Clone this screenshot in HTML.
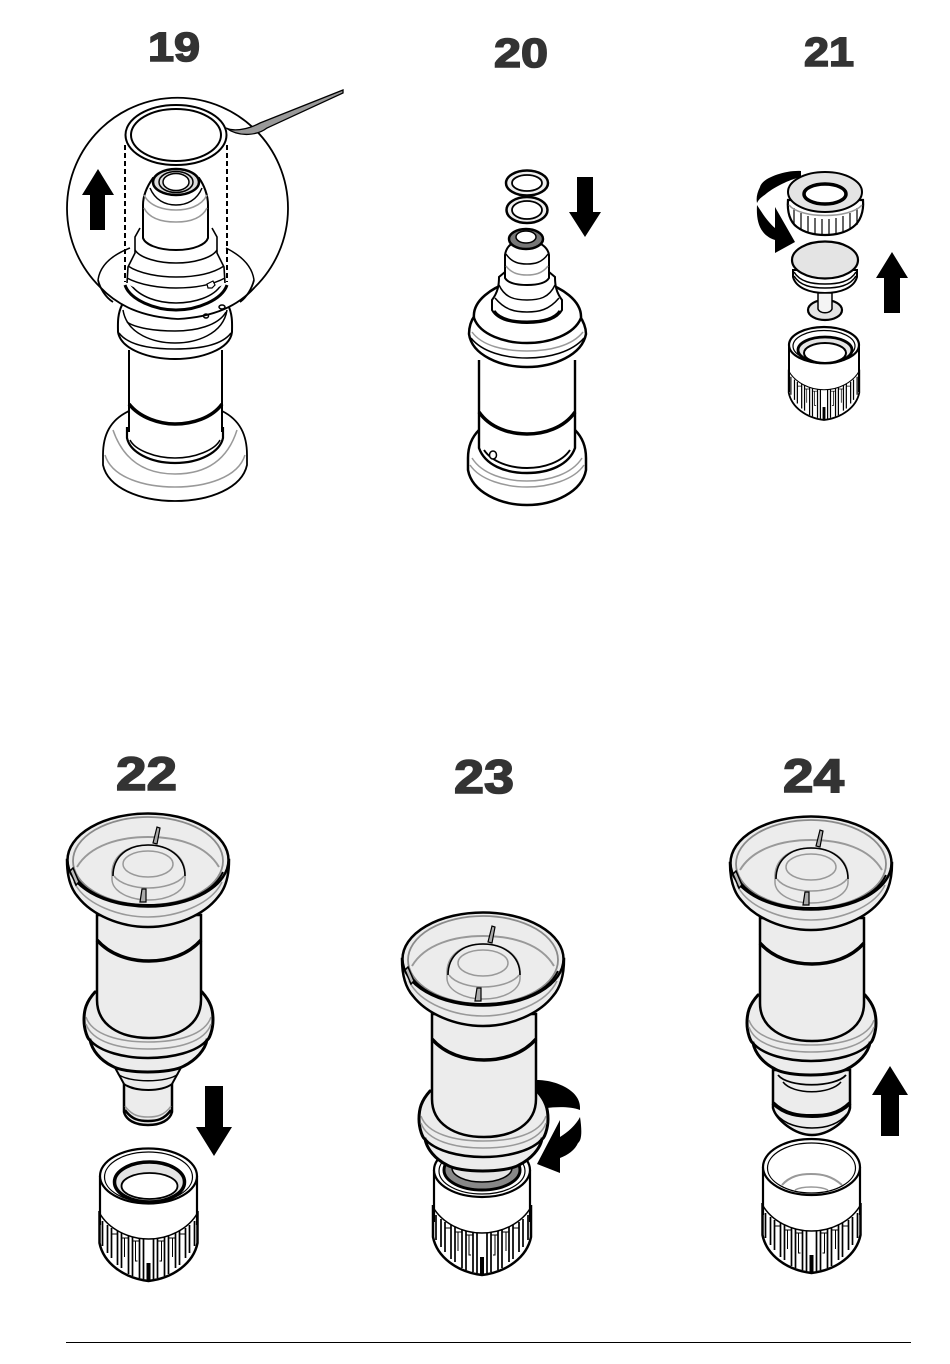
<!DOCTYPE html>
<html><head><meta charset="utf-8"><style>
html,body{margin:0;padding:0;background:#fff;width:950px;height:1364px;overflow:hidden}
svg{display:block}
text{font-family:"Liberation Sans",sans-serif;font-weight:bold;fill:#333;stroke:#333;stroke-width:1.6}
.k{fill:none;stroke:#000;stroke-width:1.5}
.w{fill:#fff;stroke:#000;stroke-width:1.5}
.y{fill:none;stroke:#999;stroke-width:1.5}
</style></head><body>
<svg width="950" height="1364" viewBox="0 0 950 1364" xmlns="http://www.w3.org/2000/svg">
<defs>
<g id="ribs">
<path d="M-49,-82 L-49,-38 C-45,-18 -25,-3 0,0 C25,-3 45,-18 49,-38 L49,-82 Z" fill="#fff" stroke="none"/>
<path d="M-49,-68 C-40,-52 -20,-42 0,-42 C20,-42 40,-52 49,-68" class="k"/>
<path d="M-49,-70 L-49,-38 C-45,-18 -25,-3 0,0 C25,-3 45,-18 49,-38 L49,-70" fill="none" stroke="#000" stroke-width="2.5"/>
<g fill="none" stroke="#000" stroke-width="1.7">
<path d="M5,-42V-2M9,-43V-3M16,-44V-5M20,-45V-7M27,-48V-13M31,-50V-16M37,-53V-23M41,-56V-28M46,-60V-35"/>
<path d="M-5,-42V-2M-9,-43V-3M-16,-44V-5M-20,-45V-7M-27,-48V-13M-31,-50V-16M-37,-53V-23M-41,-56V-28M-46,-60V-35"/>
</g>
<g fill="none" stroke="#000" stroke-width="1">
<path d="M-9,-40H-16M9,-40H16M-20,-43H-27M20,-43H27M-31,-47H-37M31,-47H37"/>
<path d="M-13,-40V-20H-11M13,-40V-20H11M-24,-43V-24M24,-43V-24"/>
</g>
<path d="M-2,-18H2V0H-2Z" fill="#000"/>
</g>
<g id="top">
<path d="M95,992 C86,1002 84,1010 84,1020 C84,1030 88,1040 90,1040 C92,1050 100,1060 112,1066 C125,1074 170,1074 184,1066 C196,1060 205,1050 207,1040 C209,1040 213,1030 213,1020 C213,1010 211,1002 202,992Z" fill="#ececec" stroke="#000" stroke-width="3"/>
<path d="M86,1024 C92,1042 120,1049 148,1049 C178,1049 205,1042 211,1024" class="y"/>
<path d="M86,1017 C92,1035 120,1042 148,1042 C178,1042 205,1035 211,1017" class="y"/>
<path d="M90,1040 C100,1052 125,1058 148,1058 C172,1058 197,1052 207,1040" fill="none" stroke="#000" stroke-width="2.5"/>
<path d="M97,915 L97,1000 C97,1025 120,1038 149,1038 C178,1038 201,1025 201,1000 L201,915Z" fill="#ececec" stroke="#000" stroke-width="2.5"/>
<path d="M97,940 C110,955 130,961 149,961 C168,961 188,955 201,940" fill="none" stroke="#000" stroke-width="3.5"/>
<path d="M67,860 C67,875 70,888 78,897 C92,915 120,927 148,927 C176,927 204,915 218,897 C226,888 229,875 229,860Z" fill="#ececec" stroke="#000" stroke-width="2.5"/>
<path d="M74,882 C85,905 120,917 148,917 C176,917 211,905 222,882" class="y"/>
<ellipse cx="148" cy="860" rx="80.5" ry="46.5" fill="#ececec" stroke="#000" stroke-width="2.5"/>
<ellipse cx="148" cy="861" rx="75" ry="44" fill="none" stroke="#8a8a8a" stroke-width="1.8"/>
<path d="M77,867 C90,845 120,837 148,837 C178,837 206,845 219,867" fill="none" stroke="#999" stroke-width="2"/>
<path d="M73,872 C85,897 120,905 148,905 C176,905 211,897 223,872" fill="none" stroke="#000" stroke-width="2"/>
<path d="M73,868 l6,14 l-3,3 l-6,-14Z" fill="#bbb" stroke="#000" stroke-width="1.5"/>
<path d="M153,843 L157,827 L160,828 L157,844Z" fill="#aaa" stroke="#000" stroke-width="1.2"/>
<path d="M112,880 C113,892 130,900 148,900 C168,900 184,892 185,880 L185,872 C184,855 168,845 148,845 C128,845 113,855 112,872Z" fill="#ececec" stroke="#999" stroke-width="1.5"/>
<path d="M113,876 C113,856 128,845 148,845 C168,845 185,856 185,876" fill="none" stroke="#000" stroke-width="1.6"/>
<ellipse cx="148" cy="864" rx="25" ry="13" fill="none" stroke="#999" stroke-width="1.5"/>
<path d="M114,876 C120,884 135,888 148,888 C162,888 178,884 184,876" class="y"/>
<path d="M140,902 L142,889 L146,889 L146,902Z" fill="#aaa" stroke="#000" stroke-width="1.2"/>
</g>
</defs>

<rect width="950" height="1364" fill="#fff"/>

<text x="148" y="61" font-size="41" textLength="52" lengthAdjust="spacingAndGlyphs">19</text>
<text x="494" y="67" font-size="41" textLength="54" lengthAdjust="spacingAndGlyphs">20</text>
<text x="804" y="66" font-size="41" textLength="50" lengthAdjust="spacingAndGlyphs">21</text>
<text x="116" y="790" font-size="47" textLength="61" lengthAdjust="spacingAndGlyphs">22</text>
<text x="454" y="793" font-size="47" textLength="60" lengthAdjust="spacingAndGlyphs">23</text>
<text x="783" y="792" font-size="47" textLength="61" lengthAdjust="spacingAndGlyphs">24</text>

<!-- 19 lower -->
<path d="M129,411 C110,420 103,435 103,455 V465 C108,488 140,501 175,501 C210,501 242,488 247,465 V455 C247,435 240,420 222,411" fill="#fff" stroke="#000" stroke-width="1.8"/>
<path d="M113,430 C125,465 150,474 175,474 C200,474 226,465 237,430" class="y"/>
<path d="M105,455 C112,478 145,487 175,487 C205,487 238,478 245,455" class="y"/>
<path d="M129,350 V440 C129,452 150,463 175,463 C200,463 222,452 222,440 V350Z" fill="#fff" stroke="none"/>
<path d="M129,350 V432 M222,350 V432" fill="none" stroke="#000" stroke-width="2"/>
<path d="M129,404 C140,418 160,424 175,424 C192,424 212,418 222,404" fill="none" stroke="#000" stroke-width="3.5"/>
<path d="M127,427 V438 C130,452 150,463 175,463 C200,463 220,452 223,438 V427" fill="none" stroke="#000" stroke-width="2.2"/>
<path d="M130,440 C135,450 155,458 175,458 C195,458 215,450 220,440" class="k"/>
<path d="M122,305 C117,315 118,325 118,332 C121,350 150,359 175,359 C200,359 230,350 232,332 C232,325 233,315 228,305Z" fill="#fff" stroke="none"/>
<path d="M122,305 C117,315 118,325 118,332 C121,350 150,359 175,359 C200,359 230,350 232,332 C232,325 233,315 228,305" fill="none" stroke="#000" stroke-width="2"/>
<path d="M119,333 C128,345 150,349 175,349 C200,349 222,345 231,333" class="k"/>
<path d="M123,310 C127,335 155,343 175,343 C195,343 223,335 227,310" class="k"/>
<path d="M127,322 C135,328 155,331 175,331 C195,331 218,326 226,312" fill="none" stroke="#000" stroke-width="1.5"/>

<!-- 19 circle, top -->
<circle cx="177.5" cy="208.5" r="110.5" fill="#fff" stroke="none"/>
<path d="M100,287 A110.5,110.5 0 1,1 255,287" fill="none" stroke="#000" stroke-width="1.8"/>
<path d="M100,287 C118,306 142,317 178,319 C214,317 238,306 255,287" fill="none" stroke="#000" stroke-width="1.8"/>
<path d="M98,280 C100,265 112,255 130,248 M254,280 C252,265 240,255 226,248" fill="none" stroke="#000" stroke-width="1.5"/>
<path d="M98,280 C100,288 105,297 113,302 M254,280 C252,288 247,297 240,302" fill="none" stroke="#000" stroke-width="1.8"/>
<path d="M125,285 C130,300 155,310 176,310 C197,310 222,300 227,285" fill="none" stroke="#000" stroke-width="3"/>
<path d="M131,285 C140,297 158,303 176,303 C194,303 214,297 221,285" class="k"/>
<path d="M140,228 L135,237 V253 L128,267 L127,283 C135,290 155,294 176,294 C197,294 217,290 225,283 L224,267 L217,253 V237 L212,228Z" fill="#fff" stroke="none"/>
<path d="M140,228 L135,237 V253 L128,267 L127,283 M212,228 L217,237 V253 L224,267 L225,283" fill="none" stroke="#000" stroke-width="1.6"/>
<path d="M135,250 C140,258 158,263 176,263 C194,263 212,258 217,250" fill="none" stroke="#000" stroke-width="1.6"/>
<path d="M128,266 C140,274 160,277 176,277 C195,277 212,274 224,266" class="k"/>
<path d="M127,278 C140,285 160,288 176,288 C195,288 212,285 225,278" class="k"/>
<path d="M143,205 C143,195 148,185 153,178 L199,178 C204,185 208,195 208,205 V238 C206,244 195,250 176,250 C157,250 145,244 143,238Z" fill="#fff" stroke="#000" stroke-width="2"/>
<path d="M144,208 C150,220 165,222 176,222 C187,222 201,220 207,208" class="y"/>
<path d="M144,195 C150,207 165,210 176,210 C187,210 201,207 207,195" class="y"/>
<path d="M150,188 C155,200 165,205 176,205 C187,205 197,200 202,188" fill="none" stroke="#000" stroke-width="1.5"/>
<ellipse cx="176" cy="182" rx="23" ry="13" fill="#ddd" stroke="#000" stroke-width="2.5"/>
<ellipse cx="176" cy="182" rx="17" ry="10.5" fill="none" stroke="#000" stroke-width="1.5"/>
<ellipse cx="176" cy="182" rx="13" ry="8.5" fill="#fff" stroke="#000" stroke-width="1.5"/>
<path d="M125,145 V282 M227,145 V282" fill="none" stroke="#000" stroke-width="2" stroke-dasharray="5 3"/>
<path d="M207,284 L213,281 L215,285 L212,288 L208,288Z" fill="#fff" stroke="#000" stroke-width="1.2"/>
<ellipse cx="206" cy="316" rx="2.5" ry="2" class="k"/>
<ellipse cx="222" cy="307" rx="3" ry="2" class="k"/>
<ellipse cx="176" cy="135" rx="50.5" ry="30" fill="none" stroke="#000" stroke-width="2"/>
<ellipse cx="176" cy="135" rx="45" ry="26" fill="none" stroke="#000" stroke-width="2"/>
<path d="M226,128 C232,131 245,131 260,123 L343,90 L343,93 L267,128 C258,135 240,138 226,128Z" fill="#999" stroke="#000" stroke-width="1.3"/>
<path d="M82,195 L98,169 L114,195 H105 V230 H90 V195Z" fill="#000"/>

<!-- 20 -->
<path d="M479,430 C471,438 468,448 468,458 V470 C472,492 500,505 527,505 C554,505 582,492 586,470 V458 C586,448 583,438 575,430" fill="#fff" stroke="#000" stroke-width="2.5"/>
<path d="M470,465 C480,480 505,487 527,487 C549,487 574,480 584,465" class="y"/>
<path d="M472,458 C482,474 505,481 527,481 C549,481 572,474 582,458" class="y"/>
<path d="M479,360 V448 C485,465 505,473 527,473 C549,473 569,465 575,448 V360Z" fill="#fff" stroke="none"/>
<path d="M479,360 V448 C485,465 505,473 527,473 C549,473 569,465 575,448 V360" fill="none" stroke="#000" stroke-width="2.4"/>
<path d="M479,412 C490,428 510,434 527,434 C544,434 564,428 575,412" fill="none" stroke="#000" stroke-width="3.5"/>
<path d="M484,450 C492,462 510,468 527,468 C544,468 562,462 570,450" fill="none" stroke="#000" stroke-width="2"/>
<ellipse cx="493" cy="455" rx="3.5" ry="4" class="w"/>
<path d="M475,315 C470,322 469,328 469,334 C472,355 500,367 527,367 C554,367 582,355 586,334 C586,328 584,322 579,315Z" fill="#fff" stroke="#000" stroke-width="2.5"/>
<path d="M471,338 C482,352 505,358 527,358 C549,358 572,352 584,338" class="k"/>
<path d="M472,332 C482,346 505,351 527,351 C549,351 572,346 583,332" class="y"/>
<path d="M474,318 C480,335 505,343 527,343 C549,343 574,335 581,318 C582,300 560,287 545,283 L508,283 C494,287 472,300 474,318Z" fill="#fff" stroke="#000" stroke-width="2.5"/>
<path d="M492,300 V310 C497,319 510,323 527,323 C544,323 557,319 562,310 V300 C556,292 555,285 555,277 L549,272 H505 L499,277 C499,285 498,292 492,300Z" fill="#fff" stroke="#000" stroke-width="2"/>
<path d="M494,311 C500,320 515,322 527,322 C539,322 554,320 560,311" fill="none" stroke="#000" stroke-width="3"/>
<path d="M495,298 C505,310 515,312 527,312 C539,312 549,310 559,298" class="k"/>
<path d="M499,285 C505,298 515,300 527,300 C539,300 549,298 555,285" class="k"/>
<path d="M505,255 C506,248 510,244 514,243 H538 C542,244 548,248 549,255 V278 C546,283 538,285 527,285 C516,285 508,283 505,278Z" fill="#fff" stroke="#000" stroke-width="2"/>
<path d="M506,266 C512,274 520,275 527,275 C534,275 542,274 548,266" class="y"/>
<path d="M506,254 C512,263 520,264 527,264 C534,264 542,263 548,254" class="k"/>
<ellipse cx="526" cy="239" rx="17" ry="10" fill="#777" stroke="#000" stroke-width="2.5"/>
<ellipse cx="526" cy="237" rx="10" ry="6" fill="#fff" stroke="#000" stroke-width="1.5"/>
<ellipse cx="527" cy="183" rx="21" ry="12.5" fill="#eee" stroke="#000" stroke-width="2.5"/>
<ellipse cx="527" cy="183" rx="15" ry="8" fill="#fff" stroke="#000" stroke-width="1.8"/>
<ellipse cx="527" cy="210" rx="20.5" ry="13" fill="#eee" stroke="#000" stroke-width="2.5"/>
<ellipse cx="527" cy="210" rx="15" ry="9" fill="#fff" stroke="#000" stroke-width="1.8"/>
<path d="M577,177 H593 V212 H601 L585,237 L569,212 H577Z" fill="#000"/>

<!-- 21 -->
<path d="M801,171 C785,170 762,178 760,187 C757,193 756,198 757,203 C760,197 764,196 767,193 C775,187 788,180 801,177Z" fill="#000"/>
<path d="M757,205 C756,222 760,235 775,240 V253 L795,242 L775,207 V228 C768,222 762,213 757,205Z" fill="#000"/>
<path d="M788,200 C787,212 790,222 797,227 C805,233 815,235 825,235 C835,235 845,233 853,227 C860,222 864,212 863,200Z" fill="#fff" stroke="#000" stroke-width="2.2"/>
<g fill="none" stroke="#000" stroke-width="1.2"><path d="M794,208V225M801,213V230M808,216V232M815,218V234M822,219V235M829,219V235M836,218V234M843,216V232M850,213V230M857,208V225"/></g>
<path d="M789,205 C800,219 850,219 862,205" class="y"/>
<ellipse cx="825" cy="192" rx="37" ry="20" fill="#e4e4e4" stroke="#000" stroke-width="2"/>
<ellipse cx="825" cy="194" rx="21" ry="10" fill="#fff" stroke="#000" stroke-width="3.5"/>
<path d="M793,270 V277 C796,288 810,293 825,293 C840,293 854,288 857,277 V270Z" fill="#fff" stroke="#000" stroke-width="2"/>
<path d="M794,276 C800,286 812,288 825,288 C838,288 850,286 856,276" class="k"/>
<path d="M794,272 C800,282 812,284 825,284 C838,284 850,282 856,272" class="k"/>
<ellipse cx="825" cy="260" rx="33" ry="18.5" fill="#e4e4e4" stroke="#000" stroke-width="2.2"/>
<ellipse cx="825" cy="310" rx="17" ry="10" fill="#e4e4e4" stroke="#000" stroke-width="2.2"/>
<path d="M818,293 V309 C820,314 830,314 832,309 V293Z" fill="#f4f4f4" stroke="#000" stroke-width="1.5"/>
<use href="#ribs" transform="translate(824,420) scale(.72,.72)"/>
<path d="M789,345 V392 M859,345 V392" fill="none" stroke="#000" stroke-width="2"/>
<ellipse cx="824" cy="345" rx="35" ry="18" fill="#fff" stroke="#000" stroke-width="2.2"/>
<ellipse cx="824" cy="346" rx="31" ry="15.5" fill="none" stroke="#000" stroke-width="1.2"/>
<ellipse cx="825" cy="350" rx="27" ry="13" fill="#e4e4e4" stroke="#000" stroke-width="2.8"/>
<ellipse cx="825" cy="353" rx="21" ry="10" fill="#fff" stroke="#000" stroke-width="2"/>
<path d="M876,278 L892,252 L908,278 H900 V313 H884 V278Z" fill="#000"/>

<!-- 22 -->
<path d="M124,1080 V1112 C126,1120 135,1125 148,1125 C161,1125 170,1120 172,1112 V1080Z" fill="#ececec" stroke="#000" stroke-width="2.5"/>
<path d="M125,1106 C132,1116 140,1117 148,1117 C156,1117 164,1116 171,1106" class="y"/>
<path d="M125,1110 C132,1120 140,1121 148,1121 C156,1121 164,1120 171,1110" fill="none" stroke="#000" stroke-width="2.5"/>
<path d="M113,1064 L124,1084 C135,1092 162,1092 172,1084 L183,1064Z" fill="#ececec" stroke="#000" stroke-width="2"/>
<path d="M118,1074 C128,1083 168,1083 178,1074" fill="none" stroke="#000" stroke-width="1.5"/>
<use href="#top"/>
<use href="#ribs" transform="translate(148.5,1281)"/>
<path d="M100,1176 V1225 M197,1176 V1225" fill="none" stroke="#000" stroke-width="2.2"/>
<ellipse cx="148.5" cy="1176" rx="48.5" ry="27.5" fill="#fff" stroke="#000" stroke-width="2.2"/>
<ellipse cx="148.5" cy="1177" rx="44" ry="25" fill="none" stroke="#000" stroke-width="1.2"/>
<ellipse cx="149.5" cy="1182" rx="35" ry="20" fill="#e4e4e4" stroke="#000" stroke-width="3.5"/>
<ellipse cx="149.5" cy="1186" rx="28" ry="13" fill="#fff" stroke="#000" stroke-width="1.8"/>
<path d="M205,1086 H223 V1127 H232 L214,1156 L196,1127 H205Z" fill="#000"/>

<!-- 23 -->
<use href="#ribs" transform="translate(482,1275)"/>
<path d="M434,1170 V1222 M530,1170 V1222" fill="none" stroke="#000" stroke-width="2.2"/>
<ellipse cx="482" cy="1170" rx="48" ry="27" fill="#fff" stroke="#000" stroke-width="2.2"/>
<ellipse cx="482" cy="1171" rx="43" ry="23" fill="none" stroke="#000" stroke-width="1.2"/>
<ellipse cx="482" cy="1170" rx="38" ry="20" fill="#888" stroke="#000" stroke-width="3"/>
<ellipse cx="482" cy="1168" rx="30" ry="14" fill="#e4e4e4" stroke="#000" stroke-width="1.5"/>
<use href="#top" transform="translate(335,99)"/>
<path d="M537,1080 C555,1080 582,1090 580,1110 C570,1106 555,1107 546,1108 C545,1100 540,1095 537,1093Z" fill="#000"/>
<path d="M580,1117 C582,1130 582,1140 578,1143 C575,1150 568,1155 560,1158 V1173 L537,1164 L560,1120 V1137 C568,1132 576,1125 580,1117Z" fill="#000"/>

<!-- 24 -->
<path d="M773,1070 V1108 C776,1120 795,1135 812,1135 C829,1135 848,1120 850,1108 V1070Z" fill="#ececec" stroke="#000" stroke-width="2.5"/>
<path d="M773,1103 C785,1115 800,1116 812,1116 C824,1116 838,1115 850,1103" fill="none" stroke="#000" stroke-width="4"/>
<path d="M776,1114 C785,1125 800,1128 812,1128 C824,1128 838,1125 847,1114" class="k"/>
<path d="M778,1075 C788,1088 835,1088 846,1075" fill="none" stroke="#000" stroke-width="1.8"/>
<path d="M783,1082 C793,1095 830,1095 841,1082" fill="none" stroke="#000" stroke-width="1.5"/>
<use href="#top" transform="translate(663,3)"/>
<use href="#ribs" transform="translate(811.5,1273)"/>
<path d="M763,1167 V1215 M860,1167 V1215" fill="none" stroke="#000" stroke-width="2.2"/>
<ellipse cx="811.5" cy="1167" rx="48.5" ry="28" fill="#fff" stroke="#000" stroke-width="2.2"/>
<ellipse cx="811.5" cy="1168" rx="44" ry="25" fill="none" stroke="#000" stroke-width="1.2"/>
<path d="M782,1185 C790,1176 800,1174 811,1174 C822,1174 832,1176 842,1185" fill="none" stroke="#999" stroke-width="2"/>
<path d="M795,1190 C802,1186 820,1186 828,1190" class="y"/>
<path d="M881,1095 H872 L890,1066 L908,1095 H899 V1136 H881Z" fill="#000"/>

<rect x="66" y="1342" width="845" height="1" fill="#000"/>
</svg>
</body></html>
